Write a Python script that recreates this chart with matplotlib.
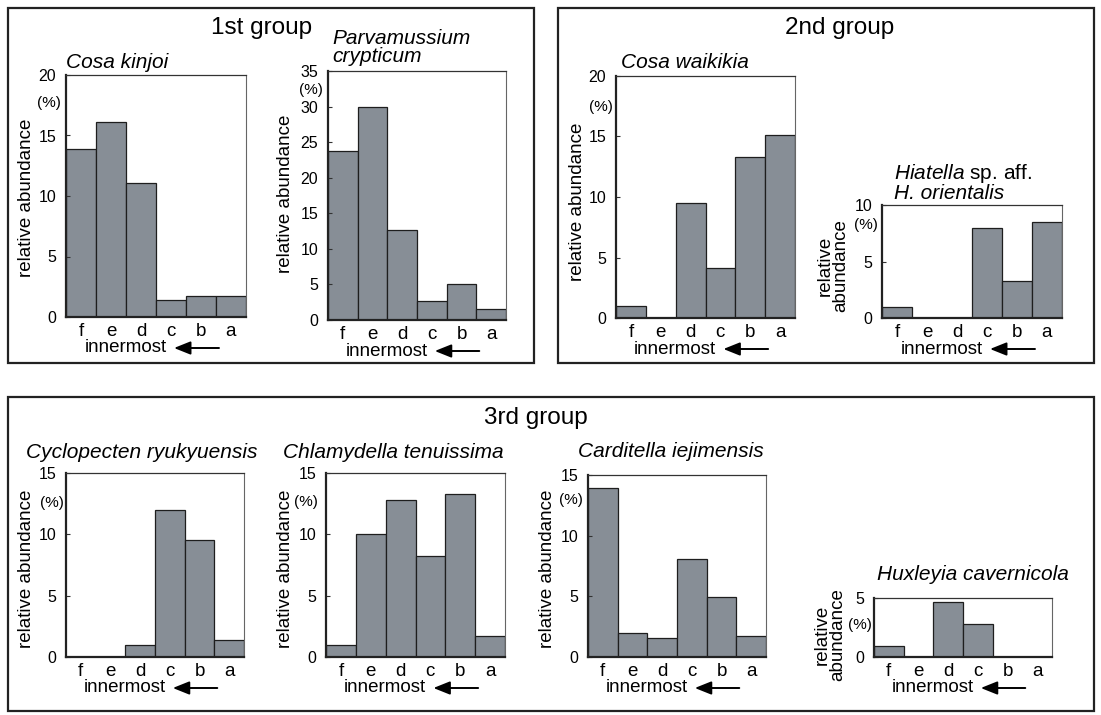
import matplotlib
matplotlib.use("Agg")
import matplotlib.pyplot as plt
from matplotlib.patches import Rectangle, FancyArrowPatch

plt.rcParams["font.family"] = ["Liberation Sans", "DejaVu Sans"]
plt.rcParams["mathtext.fontset"] = "custom"
plt.rcParams["mathtext.rm"] = "Liberation Sans"
plt.rcParams["mathtext.it"] = "Liberation Sans:italic"

W, H = 1101, 715

# zones, outermost (a) to innermost (f); plotted innermost first
ZONES = ["f", "e", "d", "c", "b", "a"]

# relative abundance (%) per zone
cosa_kinjoi = [13.9, 16.1, 11.1, 1.4, 1.7, 1.7]
parvamussium_crypticum = [23.7, 30.0, 12.6, 2.7, 5.0, 1.6]
cosa_waikikia = [1.0, 0.0, 9.5, 4.1, 13.3, 15.1]
hiatella_orientalis = [1.0, 0.0, 0.0, 8.0, 3.3, 8.5]
cyclopecten_ryukyuensis = [0.0, 0.0, 0.95, 12.0, 9.5, 1.35]
chlamydella_tenuissima = [1.0, 10.0, 12.8, 8.2, 13.3, 1.7]
carditella_iejimensis = [13.9, 2.0, 1.6, 8.1, 4.95, 1.7]
huxleyia_cavernicola = [0.95, 0.0, 4.7, 2.8, 0.0, 0.0]

GROUP_TITLES = ["1st group", "2nd group", "3rd group"]

BAR_COLOR = "#878e96"
EDGE_COLOR = "#1e1e1e"

# layout in pixels: axes box (left, top, right, bottom), title lines with baselines,
# "(%)" centre, y label centre
PANELS = [
    dict(values=cosa_kinjoi, ymax=20, box=(66, 75, 246, 317),
         title=[("Cosa kinjoi", True, 68)], title_x=66,
         pct=(49, 103), ylabel="relative abundance", ylabel_xy=(27, 198)),
    dict(values=parvamussium_crypticum, ymax=35, box=(328, 71, 506, 320),
         title=[("Parvamussium", True, 44), ("crypticum", True, 62)], title_x=332,
         pct=(311, 90), ylabel="relative abundance", ylabel_xy=(286, 194)),
    dict(values=cosa_waikikia, ymax=20, box=(616, 76, 795, 318),
         title=[("Cosa waikikia", True, 68)], title_x=621,
         pct=(601, 107), ylabel="relative abundance", ylabel_xy=(578, 202)),
    dict(values=hiatella_orientalis, ymax=10, box=(882, 205, 1062, 318),
         title=[(r"$\mathit{Hiatella}$ sp. aff.", False, 179), ("H. orientalis", True, 199)],
         title_x=894,
         pct=(866, 225), ylabel="relative\nabundance", ylabel_xy=(833, 266)),
    dict(values=cyclopecten_ryukyuensis, ymax=15, box=(66, 473, 244, 657),
         title=[("Cyclopecten ryukyuensis", True, 458)], title_x=26,
         pct=(52, 503), ylabel="relative abundance", ylabel_xy=(27, 569)),
    dict(values=chlamydella_tenuissima, ymax=15, box=(326, 473, 505, 657),
         title=[("Chlamydella tenuissima", True, 458)], title_x=283,
         pct=(306, 502), ylabel="relative abundance", ylabel_xy=(285, 569)),
    dict(values=carditella_iejimensis, ymax=15, box=(588, 475, 766, 657),
         title=[("Carditella iejimensis", True, 457)], title_x=578,
         pct=(571, 500), ylabel="relative abundance", ylabel_xy=(547, 569)),
    dict(values=huxleyia_cavernicola, ymax=5, box=(874, 598, 1052, 657),
         title=[("Huxleyia cavernicola", True, 580)], title_x=877,
         pct=(860, 625), ylabel="relative\nabundance", ylabel_xy=(830, 635)),
]

GROUP_BOXES = [(8, 8, 534, 363), (558, 8, 1094, 363), (8, 397, 1094, 711)]
GROUP_TITLE_XY = [(262, 28), (840, 28), (536, 418)]


def fx(px):
    return px / W


def fy(py):
    return 1 - py / H


def draw_panel(fig, spec):
    left, top, right, bottom = spec["box"]
    ax = fig.add_axes([fx(left), fy(bottom), (right - left) / W, (bottom - top) / H])
    x = range(len(ZONES))
    ax.bar(x, spec["values"], width=1.0, color=BAR_COLOR, edgecolor=EDGE_COLOR, linewidth=0.9)
    ax.set_xlim(-0.5, len(ZONES) - 0.5)
    ax.set_ylim(0, spec["ymax"])
    ax.set_xticks(list(x))
    ax.set_xticklabels(ZONES, fontsize=13.5)
    ax.set_yticks(range(0, spec["ymax"] + 1, 5))
    ax.tick_params(axis="x", length=0, pad=4.5)
    ax.tick_params(axis="y", direction="in", length=3, pad=7, labelsize=11.5, color="#333333")

    ax.spines["left"].set_linewidth(1.6)
    ax.spines["bottom"].set_linewidth(1.6)
    ax.spines["left"].set_color("#222222")
    ax.spines["bottom"].set_color("#222222")
    ax.spines["top"].set_linewidth(0.9)
    ax.spines["top"].set_color("#333333")
    ax.spines["right"].set_linewidth(0.8)
    ax.spines["right"].set_color("#666666")

    for text, italic, baseline in spec["title"]:
        fig.text(fx(spec["title_x"]), fy(baseline), text, fontsize=15,
                 style="italic" if italic else "normal", ha="left", va="baseline")

    fig.text(fx(spec["pct"][0]), fy(spec["pct"][1]), "(%)", fontsize=11,
             ha="center", va="center")
    fig.text(fx(spec["ylabel_xy"][0]), fy(spec["ylabel_xy"][1]), spec["ylabel"],
             fontsize=13.5, rotation=90, ha="center", va="center", linespacing=0.85)

    # "innermost <-" under the zone labels
    width = right - left
    y_row = bottom + 31
    fig.text(fx(left + 0.33 * width), fy(y_row), "innermost", fontsize=13.5,
             ha="center", va="center")
    arrow = FancyArrowPatch((fx(left + 0.85 * width), fy(y_row)), (fx(left + 0.60 * width), fy(y_row)),
                            transform=fig.transFigure, arrowstyle="-|>,head_length=0.5,head_width=0.2",
                            mutation_scale=20, lw=1.4, color="black", shrinkA=0, shrinkB=0)
    fig.add_artist(arrow)
    return ax


def main() -> None:
    fig = plt.figure(figsize=(W / 100, H / 100), dpi=100)

    for (l, t, r, b) in GROUP_BOXES:
        fig.add_artist(Rectangle((fx(l), fy(b)), (r - l) / W, (b - t) / H, transform=fig.transFigure,
                                 fill=False, lw=1.6, edgecolor="#222222"))
    for title, (gx, gy) in zip(GROUP_TITLES, GROUP_TITLE_XY):
        fig.text(fx(gx), fy(gy), title, fontsize=17.5, ha="center", va="center")

    for spec in PANELS:
        draw_panel(fig, spec)

    fig.savefig("out.png", dpi=100)
    plt.close(fig)


if __name__ == "__main__":
    main()
